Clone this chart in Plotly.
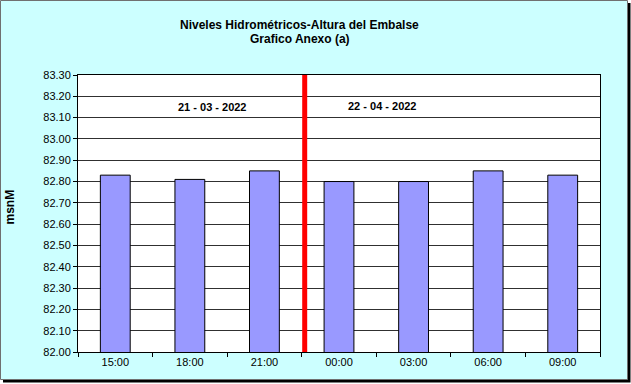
import plotly.graph_objects as go

categories = ["15:00", "18:00", "21:00", "00:00", "03:00", "06:00", "09:00"]
values = [82.83, 82.81, 82.85, 82.80, 82.80, 82.85, 82.83]
y_ticks = [82.00, 82.10, 82.20, 82.30, 82.40, 82.50, 82.60, 82.70, 82.80, 82.90, 83.00, 83.10, 83.20, 83.30]
date_labels = ["21 - 03 - 2022", "22 - 04 - 2022"]
title_lines = ["Niveles Hidrométricos-Altura del Embalse", "Grafico Anexo (a)"]
y_title = "msnM"

W, H = 631, 384
L, R, T, B = 78, 600, 75, 352
PW, PH = R - L, B - T


def px(x):
    return (x - L) / PW


def py(y):
    return (B - y) / PH


FONT = "Arial, Liberation Sans, sans-serif"

fig = go.Figure()
fig.add_trace(go.Bar(
    x=categories, y=values,
    marker=dict(color="#9999FF", line=dict(color="#000000", width=1)),
    hoverinfo="x+y",
))

shapes = [
    # shadow
    dict(type="rect", xref="paper", yref="paper", layer="below",
         x0=px(3), x1=px(630.5), y0=py(382.5), y1=py(3),
         fillcolor="#000000", line=dict(width=0)),
    # chart area
    dict(type="rect", xref="paper", yref="paper", layer="below",
         x0=px(0.5), x1=px(627.5), y0=py(379.5), y1=py(0.5),
         fillcolor="#CCFFFF", line=dict(color="#707070", width=1)),
    # plot area
    dict(type="rect", xref="paper", yref="paper", layer="below",
         x0=0, x1=1, y0=0, y1=1,
         fillcolor="#FFFFFF", line=dict(width=0)),
    # red separator
    dict(type="line", xref="x", yref="paper", layer="above",
         x0=2.54, x1=2.54, y0=0, y1=1,
         line=dict(color="#FF0000", width=5)),
]

annotations = [
    dict(text="<b>%s</b>" % title_lines[0], xref="paper", yref="paper",
         x=px(299.5), y=py(25), showarrow=False, xanchor="center", yanchor="middle",
         font=dict(family=FONT, size=12, color="#000000")),
    dict(text="<b>%s</b>" % title_lines[1], xref="paper", yref="paper",
         x=px(299.5), y=py(39), showarrow=False, xanchor="center", yanchor="middle",
         font=dict(family=FONT, size=12, color="#000000")),
    dict(text="<b>%s</b>" % date_labels[0], xref="x", yref="y",
         x=1.31, y=83.15, showarrow=False, xanchor="center", yanchor="middle",
         font=dict(family=FONT, size=11, color="#000000")),
    dict(text="<b>%s</b>" % date_labels[1], xref="x", yref="y",
         x=3.58, y=83.155, showarrow=False, xanchor="center", yanchor="middle",
         font=dict(family=FONT, size=11, color="#000000")),
    dict(text="<b>%s</b>" % y_title, xref="paper", yref="paper",
         x=px(9), y=py(207.5), showarrow=False, xanchor="center", yanchor="middle",
         textangle=-90, font=dict(family=FONT, size=12, color="#000000")),
]

fig.update_layout(
    width=W, height=H,
    margin=dict(l=L, r=W - R, t=T, b=H - B, pad=0),
    paper_bgcolor="#FFFFFF",
    plot_bgcolor="rgba(0,0,0,0)",
    showlegend=False,
    bargap=0.6,
    shapes=shapes,
    annotations=annotations,
    font=dict(family=FONT, size=11, color="#000000"),
    xaxis=dict(
        type="category", categoryorder="array", categoryarray=categories,
        range=[-0.5, len(categories) - 0.5],
        showline=True, linecolor="#000000", linewidth=1, mirror=True,
        ticks="outside", tickson="boundaries", ticklen=4, tickcolor="#000000",
        showgrid=False, tickfont=dict(family=FONT, size=11, color="#000000"),
        fixedrange=True,
    ),
    yaxis=dict(
        range=[y_ticks[0], y_ticks[-1]], tickmode="array", tickvals=y_ticks,
        ticktext=["%.2f" % v for v in y_ticks],
        showline=True, linecolor="#000000", linewidth=1, mirror=True,
        ticks="outside", ticklen=4, tickcolor="#000000",
        showgrid=True, gridcolor="#303030", gridwidth=1,
        zeroline=False,
        tickfont=dict(family=FONT, size=11, color="#000000"),
        fixedrange=True,
    ),
)

fig.write_html("out.html")
